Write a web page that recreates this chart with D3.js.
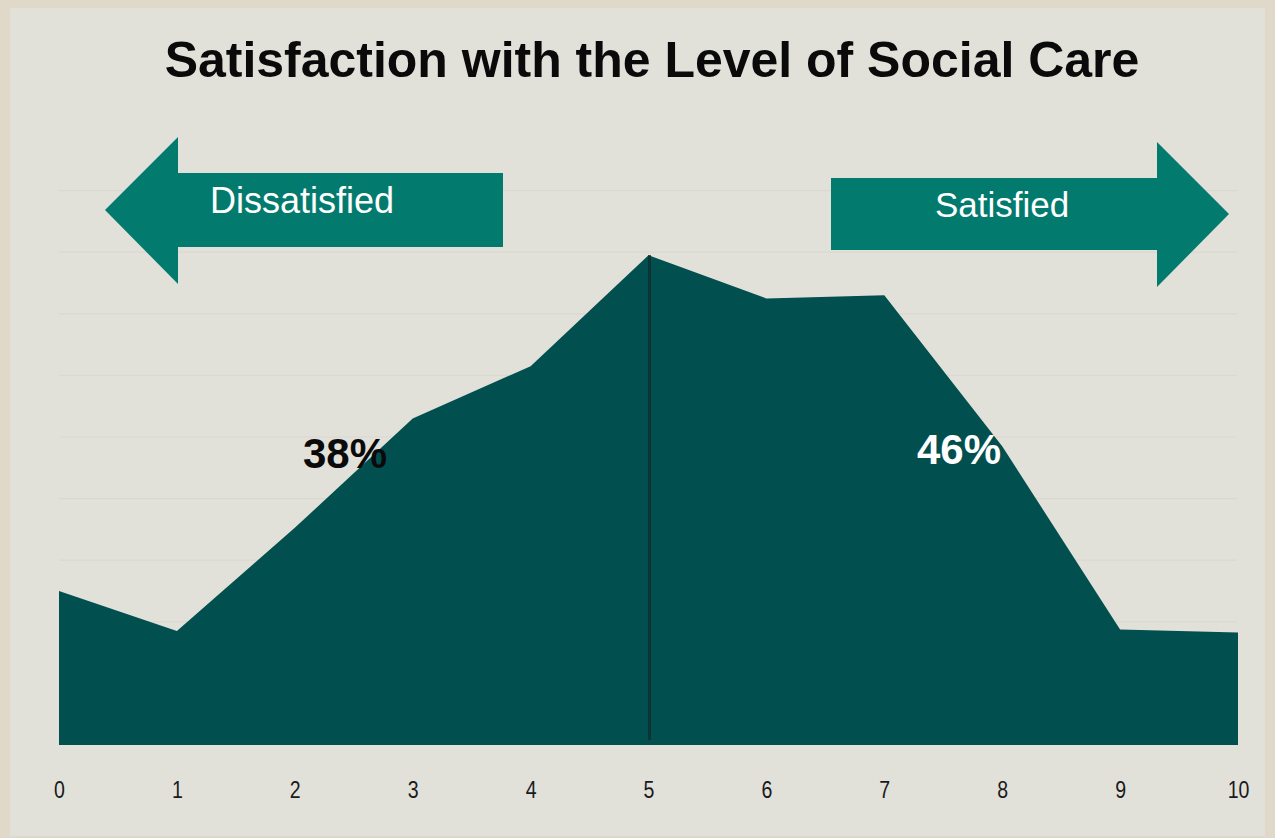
<!DOCTYPE html>
<html>
<head>
<meta charset="utf-8">
<script src="https://cdn.jsdelivr.net/npm/d3@7"></script>
<style>
html,body{margin:0;padding:0;background:#e0d9c9;}
svg{display:block;}
</style>
</head>
<body>
<svg id="chart" width="1275" height="838"></svg>
<script>
// ---- data ----
const scores = [0,1,2,3,4,5,6,7,8,9,10];
const shares = [5.0,3.7,7.05,10.6,12.3,15.9,14.5,14.6,9.7,3.75,3.65];
const tickLabels = ["0","1","2","3","4","5","6","7","8","9","10"];
const gridValues = [2,4,6,8,10,12,14,16,18];
const title = "Satisfaction with the Level of Social Care";
const leftLabel = "Dissatisfied";
const rightLabel = "Satisfied";
const dissatisfiedPct = "38%";
const satisfiedPct = "46%";

const svg = d3.select("#chart");
svg.append("rect").attr("x",10).attr("y",8).attr("width",1255).attr("height",828).attr("fill","#e1e1da");

const x = d3.scaleLinear().domain([0,10]).range([59,1238]);
const y = d3.scaleLinear().domain([0,20]).range([745,129]);

// gridlines
svg.append("g").selectAll("line").data(gridValues).join("line")
  .attr("x1",59).attr("x2",1237)
  .attr("y1",d=>y(d)).attr("y2",d=>y(d))
  .attr("stroke","#d9d9d1").attr("stroke-width",1.2);

// area
const area = d3.area().x((d,i)=>x(scores[i])).y0(y(0)).y1(d=>y(d));
svg.append("path").datum(shares).attr("d",area).attr("fill","#024f50");

// divider at 5
svg.append("line").attr("x1",x(5)+1).attr("x2",x(5)+1)
  .attr("y1",y(shares[5])).attr("y2",740)
  .attr("stroke","#0b3433").attr("stroke-width",3);

// x axis labels
const axis = d3.axisBottom(x).tickValues(scores).tickFormat((d,i)=>tickLabels[i]).tickSize(0).tickPadding(0);
const ag = svg.append("g").attr("transform","translate(0,782)").call(axis);
ag.select(".domain").remove();
ag.selectAll("text").attr("fill","#1a1a1a").attr("transform","scale(0.85,1)")
  .attr("x",function(d){ return 0; })
  .style("font-family","'Liberation Sans',Arial,sans-serif")
  .style("font-size","23px");
ag.selectAll(".tick").each(function(){ d3.select(this).select("text").attr("transform","scale(0.85,1)"); });

// title
const t = svg.append("text").attr("x",652).attr("y",77).attr("text-anchor","middle")
  .style("font-family","'Liberation Sans',Arial,sans-serif").style("font-weight","bold")
  .style("font-size","44px").attr("fill","#0a0a0a").text(title);
const tw = t.node().getComputedTextLength();
t.style("font-size",(44*975/tw)+"px");

// arrows
const arrowColor = "#037a6e";
function arrowPath(tipX, headX, tailX, tipY, headTop, headBot, shaftTop, shaftBot){
  const p = d3.path();
  p.moveTo(tipX, tipY);
  p.lineTo(headX, headTop);
  p.lineTo(headX, shaftTop);
  p.lineTo(tailX, shaftTop);
  p.lineTo(tailX, shaftBot);
  p.lineTo(headX, shaftBot);
  p.lineTo(headX, headBot);
  p.closePath();
  return p.toString();
}
svg.append("path").attr("d",arrowPath(105,178,503,210,137,284,173,247)).attr("fill",arrowColor);
svg.append("path").attr("d",arrowPath(1229,1157,831,214,142,287,178,250)).attr("fill",arrowColor);

svg.append("text").attr("x",302).attr("y",213).attr("text-anchor","middle")
  .style("font-family","'Liberation Sans',Arial,sans-serif").style("font-size","36px")
  .attr("fill","#ffffff").text(leftLabel);
svg.append("text").attr("x",1002).attr("y",217).attr("text-anchor","middle")
  .style("font-family","'Liberation Sans',Arial,sans-serif").style("font-size","35px")
  .attr("fill","#ffffff").text(rightLabel);

// percentages
svg.append("text").attr("x",345).attr("y",468).attr("text-anchor","middle")
  .style("font-family","'Liberation Sans',Arial,sans-serif").style("font-weight","bold")
  .style("font-size","42px").attr("fill","#0a0a0a").text(dissatisfiedPct);
svg.append("text").attr("x",959).attr("y",464).attr("text-anchor","middle")
  .style("font-family","'Liberation Sans',Arial,sans-serif").style("font-weight","bold")
  .style("font-size","42px").attr("fill","#ffffff").text(satisfiedPct);
</script>
</body>
</html>
